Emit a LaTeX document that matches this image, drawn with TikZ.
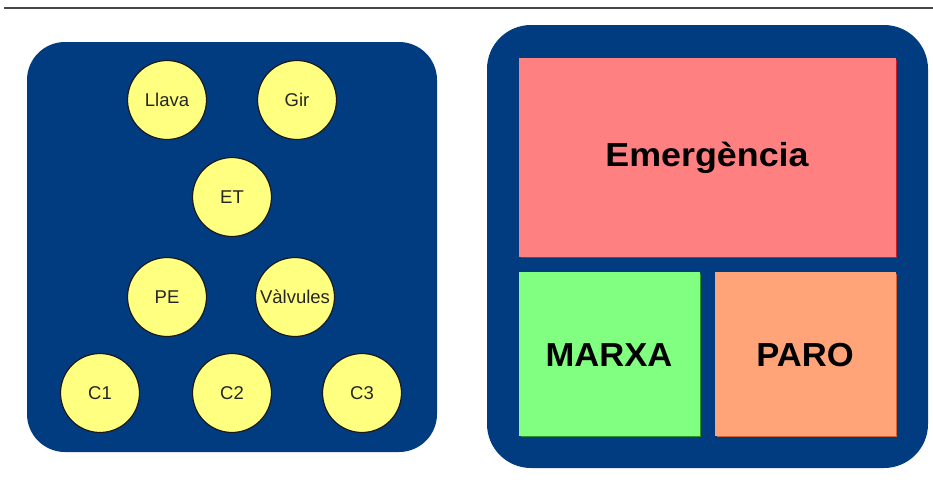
\documentclass[tikz,border=0pt]{standalone}
\usepackage{fontspec}
\setmainfont{Liberation Sans}
\definecolor{panelblue}{RGB}{2,60,128}
\definecolor{bubble}{RGB}{255,255,128}
\definecolor{emerg}{RGB}{255,128,128}
\definecolor{emergedge}{RGB}{200,30,40}
\definecolor{marxa}{RGB}{128,255,128}
\definecolor{marxaedge}{RGB}{40,150,40}
\definecolor{paro}{RGB}{255,164,120}
\definecolor{paroedge}{RGB}{210,100,50}
\definecolor{rulegray}{RGB}{70,70,70}
\begin{document}
\begin{tikzpicture}[x=1pt,y=-1pt,
  panel/.style={fill=panelblue, draw=none},
  bubble/.style={circle, minimum size=79pt, inner sep=0pt, fill=bubble,
    draw=black!90, line width=1.2pt, text=black!85,
    font=\fontsize{18.5}{22}\selectfont},
  button/.style={font=\bfseries\fontsize{32}{38}\selectfont}
]
\useasboundingbox (0,0) rectangle (933,479);
\fill[white] (0,0) rectangle (933,479);

% rule along the top
\draw[rulegray, line width=2pt] (4,8) -- (933,8);

% left panel with the signal bubbles
\fill[panel, rounded corners=38pt] (27,42) rectangle (437,452);
\node[bubble] (llava) at (167,100) {Llava};
\node[bubble] (gir) at (297,100) {Gir};
\node[bubble] (et) at (232,197) {ET};
\node[bubble] (pe) at (167,297) {PE};
\node[bubble] (valv) at (295,297) {Vàlvules};
\node[bubble] (c1) at (100,393) {C1};
\node[bubble] (c2) at (232,393) {C2};
\node[bubble] (c3) at (362,393) {C3};

% right panel with the push buttons
\fill[panel, rounded corners=44pt] (487,25) rectangle (928,468);

\fill[emergedge] (520.5,59.5) rectangle (897,258);
\fill[emerg] (519,58) rectangle (895.5,256.5);
\node[button] (emg) at (707,158) {\scalebox{1.12}[1.04]{Emergència}};

\fill[marxaedge] (520.5,273.5) rectangle (701,437);
\fill[marxa] (519,272) rectangle (699.5,435.5);
\node[button] (mx) at (609,355) {\scalebox{1.08}[1.04]{MARXA}};

\fill[paroedge] (716.5,273.5) rectangle (897,437);
\fill[paro] (715,272) rectangle (895.5,435.5);
\node[button] (pr) at (805,355) {\scalebox{1.08}[1.04]{PARO}};
\end{tikzpicture}
\end{document}
